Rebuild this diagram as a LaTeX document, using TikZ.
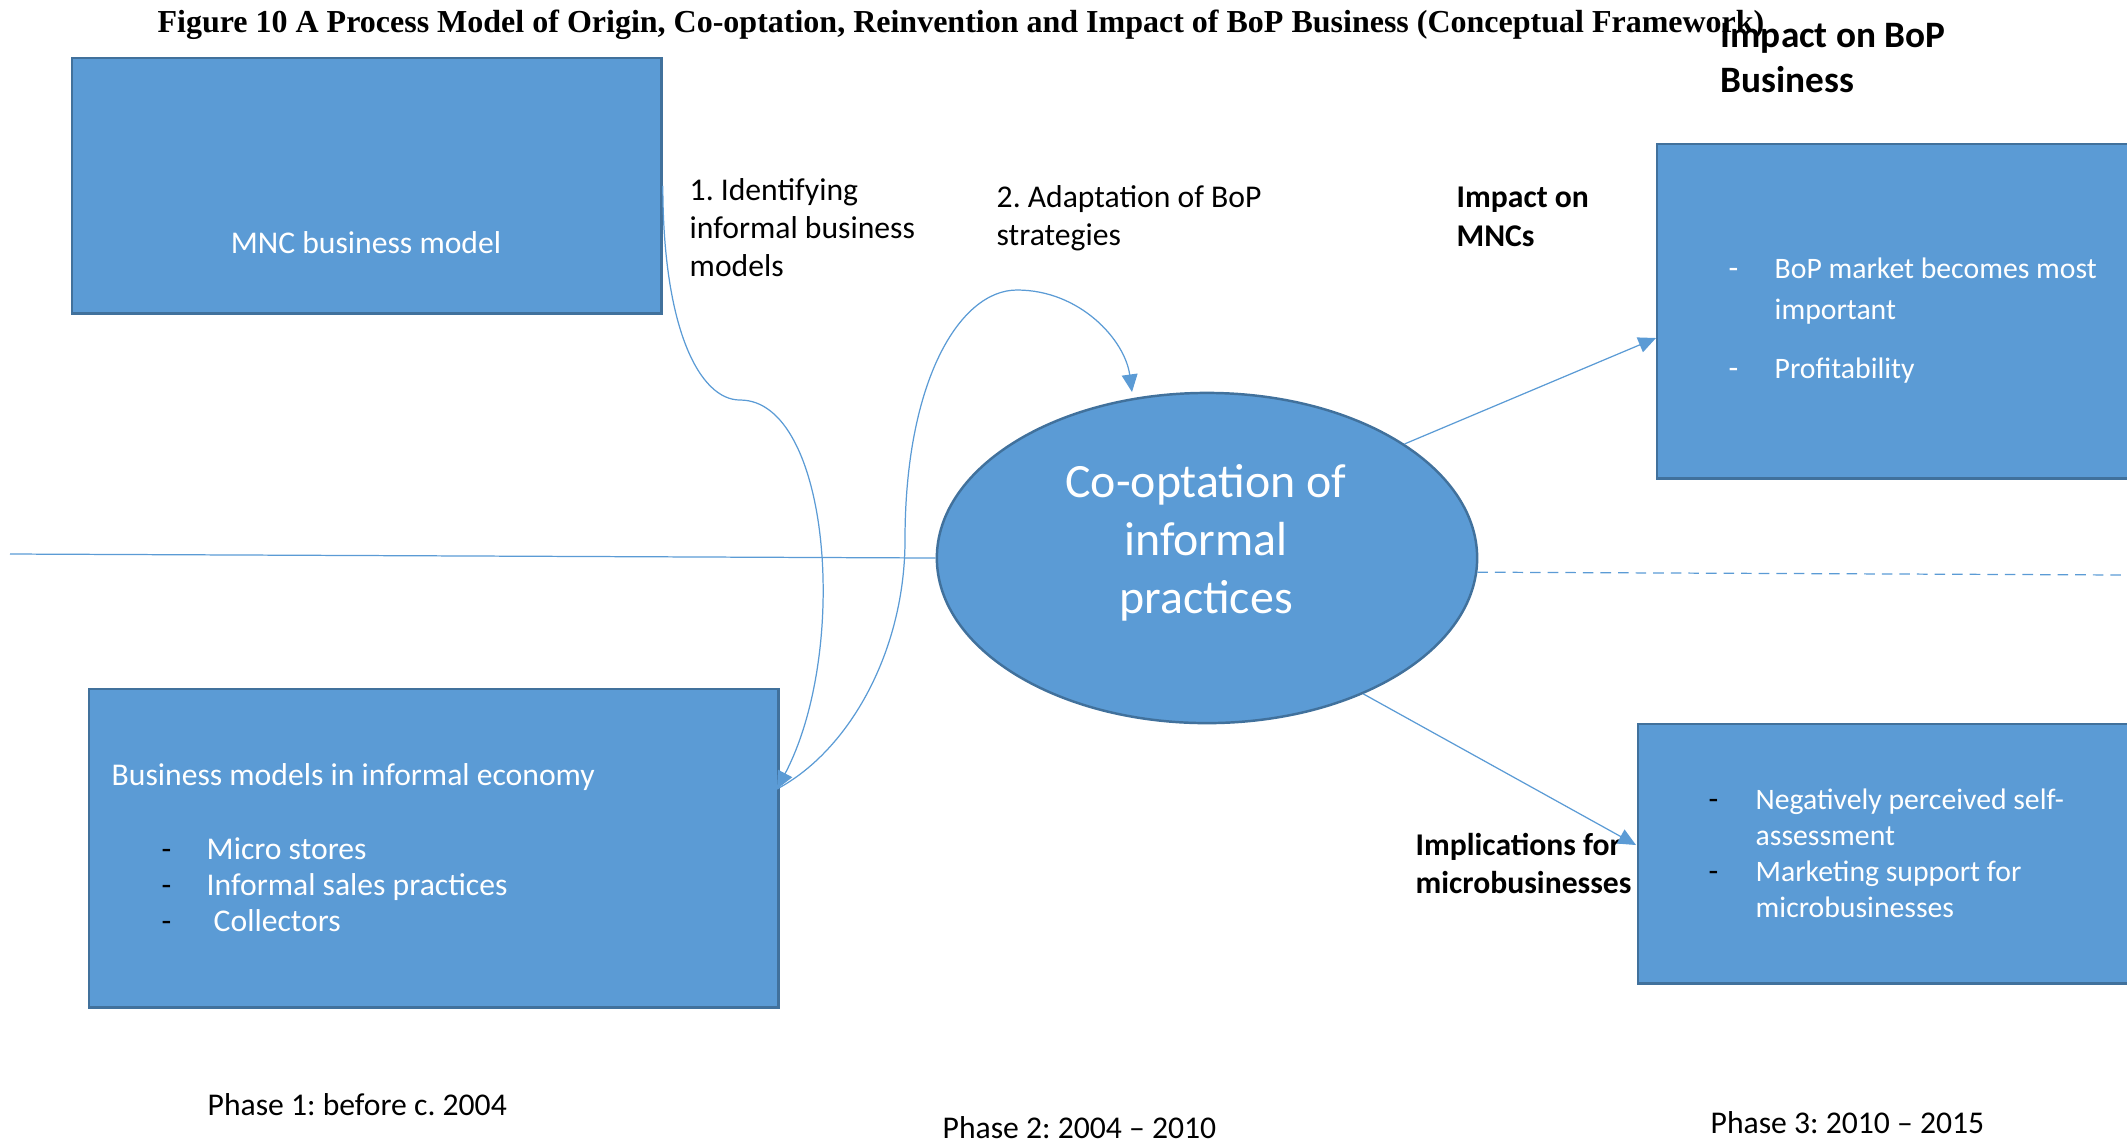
\documentclass[tikz,border=0pt]{standalone}
\usepackage{fontspec}
\setmainfont{Carlito}
\newfontfamily\titlefont{Liberation Serif}
\usetikzlibrary{arrows.meta,shapes.geometric,positioning}
\definecolor{boxblue}{RGB}{91,155,213}
\definecolor{boxline}{RGB}{65,113,156}
\frenchspacing

\begin{document}
\begin{tikzpicture}[x=0.01cm,y=-0.01cm,>={Triangle[length=5pt,width=4.5pt]},
	box/.style={draw=boxline,fill=boxblue,line width=0.7pt,anchor=north west,inner sep=0pt},
	lbl/.style={anchor=base west,inner sep=0pt,font=\fontsize{9pt}{10.8pt}\selectfont},
	intext/.style={lbl,text=white},
	smalltext/.style={lbl,text=white,font=\fontsize{8.45pt}{10pt}\selectfont},
	bold/.style={lbl,font=\fontsize{9pt}{10.8pt}\selectfont\bfseries},
	link/.style={draw=boxblue,line width=0.35pt}]
		\useasboundingbox (0,0) rectangle (2127,1144);
		\node[anchor=base,inner sep=0pt,font=\titlefont\bfseries\fontsize{9.1pt}{11pt}\selectfont](title) at (961,32){Figure 10 A Process Model of Origin, Co-optation, Reinvention and Impact of BoP Business (Conceptual Framework)};
		% the four boxes and the ellipse
		\node[box,minimum width=5.89cm,minimum height=2.55cm](mnc) at (71,57){};
		\node[box,minimum width=6.89cm,minimum height=3.18cm](informal) at (88,688){};
		\node[box,minimum width=5.2cm,minimum height=3.34cm](bop) at (1656,143){};
		\node[box,minimum width=5.4cm,minimum height=2.59cm](micro) at (1637,723){};
		\node[draw=boxline,fill=boxblue,line width=0.7pt,ellipse,inner sep=0pt,minimum width=5.4cm,minimum height=3.3cm](coopt) at (1207,558){};
		% texts
		\node[intext,anchor=base](mnctext) at (366,253){MNC business model};
		\foreach \t/\yy [count=\i] in {Co-optation of/497,informal/555,practices/613}
			\node[intext,anchor=base,font=\fontsize{13.6pt}{16pt}\selectfont](cooptline\i) at (1206,\yy){\t};
		\foreach \t/\yy [count=\i] in {1. Identifying/200,informal business/238,models/276}
			\node[lbl](ident\i) at (689,\yy){\t};
		\foreach \t/\yy [count=\i] in {2. Adaptation of BoP/207,strategies/245}
			\node[lbl](adapt\i) at (996,\yy){\t};
		\foreach \t/\yy [count=\i] in {Impact on/207,MNCs/246}
			\node[bold](mncimp\i) at (1456,\yy){\t};
		\foreach \t/\yy [count=\i] in {Impact on BoP/47,Business/92}
			\node[bold,font=\fontsize{10.6pt}{12.5pt}\selectfont\bfseries](bopimp\i) at (1720,\yy){\t};
		\foreach \t/\yy [count=\i] in {Implications for/855,microbusinesses/893}
			\node[bold](microimp\i) at (1415,\yy){\t};
		% box contents
		\node[intext](infhead) at (111,785){Business models in informal economy};
		\foreach \t/\xx/\yy [count=\i] in {Micro stores/206/859,Informal sales practices/206/895,Collectors/213/931}{
			\node[lbl](infdash\i) at (161,\yy){-};
			\node[intext](infitem\i) at (\xx,\yy){\t};
		}
		\foreach \yy [count=\i] in {278,378}
			\node[intext](bopdash\i) at (1728,\yy){-};
		\foreach \t/\yy [count=\i] in {BoP market becomes most/278,important/319,Profitability/378}
			\node[smalltext](bopitem\i) at (1774,\yy){\t};
		\foreach \yy [count=\i] in {809,881}
			\node[lbl](microdash\i) at (1708,\yy){-};
		\foreach \t/\yy [count=\i] in {Negatively perceived self-/809,assessment/845,Marketing support for/881,microbusinesses/917}
			\node[smalltext](microitem\i) at (1755,\yy){\t};
		% phases
		\node[lbl](phaseA) at (207,1115){Phase 1: before c. 2004};
		\node[lbl](phaseB) at (942,1138){Phase 2: 2004 -- 2010};
		\node[lbl](phaseC) at (1710,1133){Phase 3: 2010 -- 2015};
		% connectors
		\coordinate(leftend) at (10,554);
		\coordinate(rightend) at (2127,575);
		\coordinate(bend) at (740,400);
		\coordinate(infin) at (777,789);
		\coordinate(cooptin) at (1132,392);
		\coordinate(bopin) at (1656,338);
		\coordinate(microin) at (1636,845);
		\draw[link] (leftend) -- (coopt.west);
		\draw[link,dash pattern=on 3pt off 2pt] (coopt.-3) -- (rightend);
		\draw[link,->] (mnc.east) .. controls (663,330) and (700,400) .. (bend)
			.. controls (830,400) and (850,650) .. (infin);
		\draw[link,->] (infin) .. controls (850,750) and (905,650) .. (905,540)
			.. controls (905,380) and (960,290) .. (1017,290)
			.. controls (1080,290) and (1125,340) .. (cooptin);
		\draw[link,->] (coopt.30.7) -- (bopin);
		\draw[link,->] (coopt.-41.5) -- (microin);
		\end{tikzpicture}
\end{document}
